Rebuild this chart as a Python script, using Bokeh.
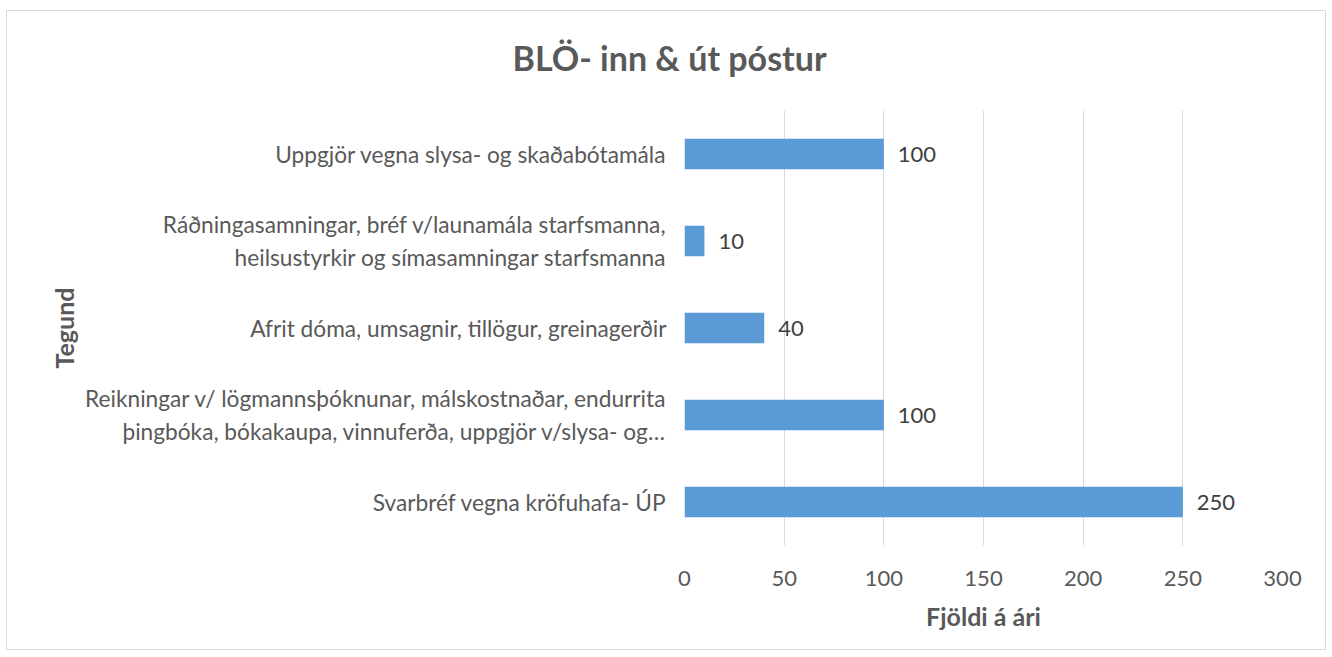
from bokeh.plotting import figure
from bokeh.models import ColumnDataSource, FactorRange
from bokeh.core.properties import value
from bokeh.embed import file_html
from bokeh.resources import INLINE

categories = [
    "Uppgjör vegna slysa- og skaðabótamála",
    "Ráðningasamningar, bréf v/launamála starfsmanna,\nheilsustyrkir og símasamningar starfsmanna",
    "Afrit dóma, umsagnir, tillögur, greinagerðir",
    "Reikningar v/ lögmannsþóknunar, málskostnaðar, endurrita\nþingbóka, bókakaupa, vinnuferða, uppgjör v/slysa- og…",
    "Svarbréf vegna kröfuhafa- ÚP",
]
values = [100, 10, 40, 100, 250]
labels = [str(v) for v in values]
x_ticks = [0, 50, 100, 150, 200, 250, 300]
title_text = "BLÖ- inn & út póstur"

FONT = "Lato"
GREY = "#595959"

src = ColumnDataSource(dict(cat=categories, val=values, lab=labels))

p = figure(
    width=1332, height=652,
    y_range=FactorRange(factors=list(reversed(categories))),
    x_range=(0, 300),
    output_backend="svg", toolbar_location=None,
    title=title_text,
    min_border_left=684, min_border_right=50,
    min_border_top=106, min_border_bottom=111,
)
p.styles = {"outline": "1px solid #D9D9D9", "outline-offset": "-7px",
            "margin-top": "4px", "background-color": "white"}
p.border_fill_color = None

p.hbar(y="cat", right="val", left=0, height=0.35, source=src,
       fill_color="#5B9BD5", line_color=None)
p.text(x="val", y="cat", text="lab", source=src, x_offset=14,
       text_align="left", text_baseline="middle",
       text_font=value(FONT), text_font_size="22px", text_color="#404040")

p.title.align = "left"
p.title.vertical_align = "top"
p.title.offset = -172
p.title.standoff = 61
p.title.text_font = FONT
p.title.text_font_size = "34px"
p.title.text_font_style = "bold"
p.title.text_color = GREY

p.outline_line_color = None
p.ygrid.grid_line_color = None
p.xgrid.grid_line_color = "#D9D9D9"
p.xgrid.grid_line_width = 1
p.xaxis.ticker = x_ticks

for ax in (p.xaxis[0], p.yaxis[0]):
    ax.axis_line_color = None
    ax.major_tick_line_color = None
    ax.minor_tick_line_color = None
    ax.major_label_text_font = FONT
    ax.major_label_text_color = GREY
    ax.axis_label_text_font = FONT
    ax.axis_label_text_font_size = "25px"
    ax.axis_label_text_font_style = "bold"
    ax.axis_label_text_color = GREY

p.xaxis.major_label_text_font_size = "22px"
p.yaxis.major_label_text_font_size = "22.7px"
p.xaxis.axis_label = "Fjöldi á ári"
p.yaxis.axis_label = "Tegund"
p.xaxis.major_label_standoff = 19
p.xaxis.axis_label_standoff = 12
p.yaxis.major_label_standoff = 12
p.yaxis.axis_label_standoff = 3

open("out.html", "w").write(file_html(p, INLINE))
